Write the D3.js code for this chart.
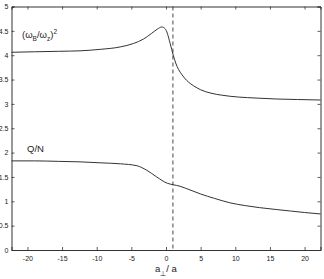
<!DOCTYPE html>
<html><head><meta charset="utf-8">
<script src="https://cdn.jsdelivr.net/npm/d3@7"></script>
<style>body{margin:0;background:#fff}svg{display:block}text{font-family:"Liberation Sans",Arial,sans-serif;fill:#222}</style>
</head><body>
<script>
const xTicks=[-20,-15,-10,-5,0,5,10,15,20];
const yTicks=[0,0.5,1,1.5,2,2.5,3,3.5,4,4.5,5];
const upperX=[-22.3,-19,-15.5,-12.4,-9.5,-6.6,-4.7,-3.27,-2.06,-1.2,-0.62,-0.1,0.19,0.6,1.05,1.4,1.8,2.3,3.0,4.0,5.0,6.5,8,10.5,13,16,19,22.3];
const upperY=[4.06,4.07,4.08,4.09,4.12,4.17,4.24,4.33,4.45,4.54,4.58,4.54,4.45,4.24,4.00,3.84,3.71,3.60,3.48,3.37,3.29,3.22,3.18,3.14,3.12,3.10,3.09,3.08];
const lowerX=[-22.3,-19,-15.5,-12.4,-9.5,-6.6,-4.2,-2.8,-1.34,0.19,1.05,2.0,2.8,3.9,5.0,7.0,9.2,11.5,13.5,16,18,20,22.3];
const lowerY=[1.83,1.83,1.82,1.81,1.79,1.77,1.73,1.64,1.50,1.37,1.34,1.31,1.27,1.21,1.15,1.06,0.97,0.91,0.87,0.83,0.80,0.77,0.74];
const dashX=1;
const W=324,H=279;
const m={l:11.5,r:3.5,t:6.5,b:29};
const svg=d3.select("body").append("svg").attr("width",W).attr("height",H);
const x=d3.scaleLinear().domain([-22.3,22.3]).range([m.l,W-m.r]);
const y=d3.scaleLinear().domain([0,5]).range([H-m.b,m.t]);
const axCol="#333";
const g=svg.append("g");
const fs=7;
const ax=g.append("g").attr("transform",`translate(0,${H-m.b})`).call(d3.axisBottom(x).tickValues(xTicks).tickSize(-3).tickPadding(6).tickFormat(d=>d));
const axT=g.append("g").attr("transform",`translate(0,${m.t})`).call(d3.axisTop(x).tickValues(xTicks).tickSize(-3).tickFormat(""));
const ay=g.append("g").attr("transform",`translate(${m.l},0)`).call(d3.axisLeft(y).tickValues(yTicks).tickSize(-3).tickPadding(3).tickFormat(d=>d));
const ayR=g.append("g").attr("transform",`translate(${W-m.r},0)`).call(d3.axisRight(y).tickValues(yTicks).tickSize(-3).tickFormat(""));
[ax,axT,ay,ayR].forEach(a=>{a.selectAll("path").attr("stroke",axCol).attr("stroke-width",1);a.selectAll("line").attr("stroke",axCol).attr("stroke-width",0.8);a.selectAll("text").attr("font-size",fs).attr("font-family","Liberation Sans, Arial, sans-serif").attr("fill","#222");});
g.append("line").attr("x1",x(dashX)).attr("x2",x(dashX)).attr("y1",y(5)).attr("y2",y(0)).attr("stroke","#333").attr("stroke-width",0.9).attr("stroke-dasharray","4,3");
const line=d3.line().x(d=>x(d[0])).y(d=>y(d[1])).curve(d3.curveMonotoneX);
g.append("path").datum(upperX.map((v,i)=>[v,upperY[i]])).attr("d",line).attr("fill","none").attr("stroke","#333").attr("stroke-width",1);
g.append("path").datum(lowerX.map((v,i)=>[v,lowerY[i]])).attr("d",line).attr("fill","none").attr("stroke","#333").attr("stroke-width",1);
const t1=g.append("text").attr("x",22).attr("y",38).attr("font-size",9.5);
t1.append("tspan").text("(\u03c9");
t1.append("tspan").text("B").attr("font-size",6.5).attr("dy",2.5);
t1.append("tspan").text("/\u03c9").attr("dy",-2.5);
t1.append("tspan").text("z").attr("font-size",6.5).attr("dy",2.5);
t1.append("tspan").text(")").attr("dy",-2.5);
t1.append("tspan").text("2").attr("font-size",6.5).attr("dy",-4.5);
g.append("text").attr("x",27).attr("y",152).attr("font-size",9.5).text("Q/N");
const t3=g.append("text").attr("x",155).attr("y",272).attr("font-size",9.5);
t3.append("tspan").text("a");
t3.append("tspan").text("\u22a5").attr("font-size",6.5).attr("dy",3.5);
t3.append("tspan").text("/ a").attr("dy",-3.5);
</script>
</body></html>
